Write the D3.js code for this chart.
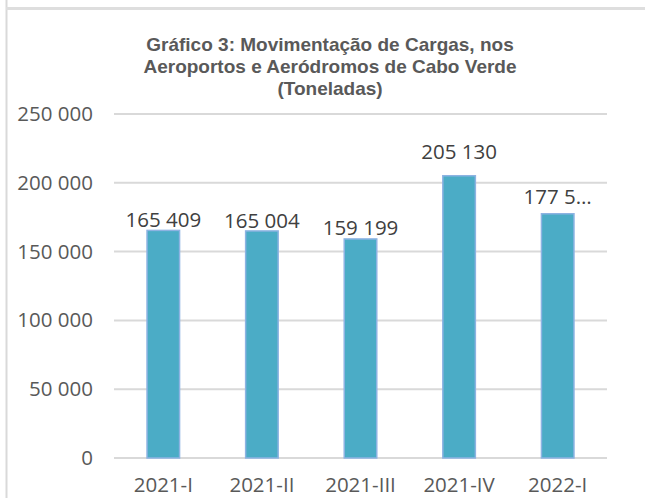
<!DOCTYPE html>
<html>
<head>
<meta charset="utf-8">
<script src="https://cdn.jsdelivr.net/npm/d3@7"></script>
<style>
  body { margin: 0; background: #fff; }
  svg { display: block; }
</style>
</head>
<body>
<div id="chart"></div>
<script>
// data
var periods = ["2021-I", "2021-II", "2021-III", "2021-IV", "2022-I"];
var tonnes = [165409, 165004, 159199, 205130, 177500];
var shownLabels = ["165 409", "165 004", "159 199", "205 130", "177 5…"];
var yTicks = [0, 50000, 100000, 150000, 200000, 250000];
var titleLines = ["Gráfico 3: Movimentação de Cargas, nos", "Aeroportos e Aeródromos de Cabo Verde", "(Toneladas)"];

var W = 645, H = 498;
var margin = { top: 114, left: 114, right: 38, bottom: 40 },
    width = W - margin.left - margin.right,
    height = H - margin.top - margin.bottom;

// label lift above bar top (Excel moved a couple of them)
var labelDy = [3, 3, 4, 17, 10];

var svg = d3.select("#chart")
    .append("svg")
    .attr("width", W)
    .attr("height", H);

// outer frame bits
svg.append("line")
    .attr("x1", 6.5).attr("x2", 6.5).attr("y1", 0).attr("y2", H)
    .attr("stroke", "#d9d9d9").attr("stroke-width", 2);
svg.append("rect")
    .attr("x", 6).attr("y", 7).attr("width", W - 6).attr("height", 3)
    .attr("fill", "#dedede");

// title
svg.append("g").selectAll("text")
    .data(titleLines)
    .enter().append("text")
    .attr("x", 330)
    .attr("y", function (d, i) { return 51 + i * 22; })
    .attr("text-anchor", "middle")
    .attr("font-family", "Liberation Sans, Arial, sans-serif")
    .attr("font-weight", "bold")
    .attr("font-size", 19)
    .attr("fill", "#595959")
    .text(function (d) { return d; });

var g = svg.append("g")
    .attr("transform", "translate(" + margin.left + "," + margin.top + ")");

var x = d3.scaleBand()
    .domain(periods)
    .range([0, width])
    .paddingInner(0.67)
    .paddingOuter(0.335);

var y = d3.scaleLinear()
    .domain([0, 250000])
    .range([height, 0]);

var fmt = function (v) { return d3.format(",")(v).replace(/,/g, " "); };

// gridlines
g.append("g").selectAll("line")
    .data(yTicks)
    .enter().append("line")
    .attr("x1", 0).attr("x2", width)
    .attr("y1", function (d) { return y(d); })
    .attr("y2", function (d) { return y(d); })
    .attr("stroke", "#d9d9d9")
    .attr("stroke-width", 2);

// y axis labels
var yAxis = g.append("g")
    .call(d3.axisLeft(y).tickValues(yTicks).tickFormat(fmt).tickSize(0).tickPadding(21));
yAxis.select(".domain").remove();
yAxis.selectAll("text")
    .attr("font-family", "Open Sans, sans-serif")
    .attr("font-size", 20.5)
    .attr("fill", "#595959");

// x axis labels
var xAxis = g.append("g")
    .attr("transform", "translate(0," + height + ")")
    .call(d3.axisBottom(x).tickSize(0).tickPadding(19));
xAxis.select(".domain").remove();
xAxis.selectAll("text")
    .attr("font-family", "Open Sans, sans-serif")
    .attr("font-size", 20.5)
    .attr("fill", "#595959");

// bars
g.selectAll(".bar")
    .data(tonnes)
    .enter().append("rect")
    .attr("class", "bar")
    .attr("x", function (d, i) { return x(periods[i]); })
    .attr("y", function (d) { return y(d); })
    .attr("width", x.bandwidth())
    .attr("height", function (d) { return height - y(d); })
    .attr("fill", "#4bacc6")
    .attr("stroke", "#8db3e2")
    .attr("stroke-width", 1.5);

// data labels
g.selectAll(".lbl")
    .data(tonnes)
    .enter().append("text")
    .attr("class", "lbl")
    .attr("x", function (d, i) { return x(periods[i]) + x.bandwidth() / 2; })
    .attr("y", function (d, i) { return y(d) - labelDy[i]; })
    .attr("text-anchor", "middle")
    .attr("font-family", "Open Sans, sans-serif")
    .attr("font-size", 20.5)
    .attr("fill", "#404040")
    .text(function (d, i) { return shownLabels[i]; });
</script>
</body>
</html>
